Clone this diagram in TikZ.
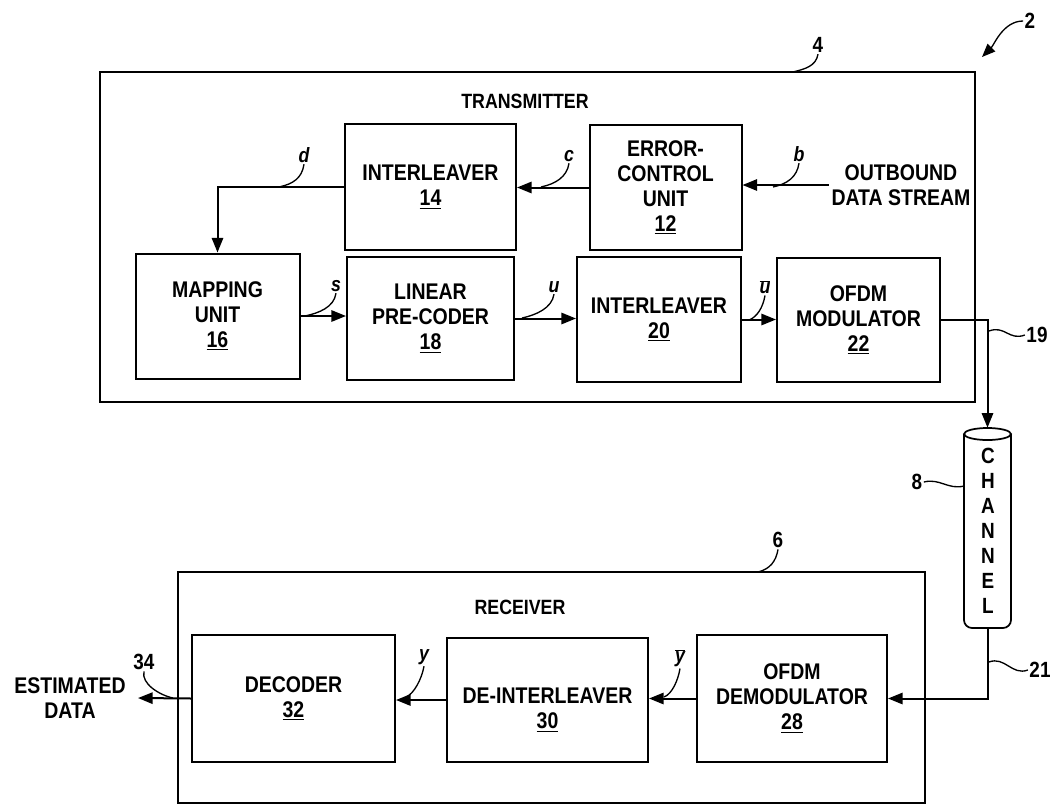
\documentclass[tikz,border=0pt]{standalone}
\usepackage{fontspec}
\setmainfont{Liberation Sans}[FakeStretch=0.86]
\usetikzlibrary{arrows.meta}
\newcommand\olbar[1]{$\overline{\mbox{#1}}$}
\begin{document}
\begin{tikzpicture}[x=0.75pt,y=-0.75pt,
  sz/.style n args={2}{minimum width=#1*0.75pt, minimum height=#2*0.75pt},
  box/.style={draw, line width=1.5pt, inner sep=0pt, align=center, font=\bfseries\fontsize{17}{18.75}\selectfont},
  outer/.style={draw, line width=1.3pt, inner sep=0pt},
  title/.style={font=\bfseries\fontsize{15.5}{18}\selectfont},
  txt/.style={align=center, inner sep=2pt, font=\bfseries\fontsize{17}{18.75}\selectfont},
  lab/.style={font=\bfseries\itshape\fontsize{15.5}{18}\selectfont, inner sep=1pt},
  num/.style={font=\bfseries\fontsize{16.5}{18}\selectfont, inner sep=1pt},
  conn/.style={line width=1.5pt},
  arr/.style={line width=1.5pt, -{Triangle[length=11pt,width=8.5pt]}},
  lead/.style={line width=1pt}]
\useasboundingbox (0,0) rectangle (1050,807);

% transmitter
\node[outer, sz={875}{330}] (tx) at (537.5,237) {};
\node[title] (txt) at (525,101) {TRANSMITTER};
\node[box, sz={171}{126}] (i14) at (430.5,187) {INTERLEAVER\\\underline{14}};
\node[box, sz={152}{125}] (e12) at (665.5,187.5) {ERROR-\\CONTROL\\UNIT\\\underline{12}};
\node[txt] (out) at (901,185) {OUTBOUND\\DATA STREAM};
\node[box, sz={164}{125}] (m16) at (217.5,316) {MAPPING\\UNIT\\\underline{16}};
\node[box, sz={167}{123}] (p18) at (430.5,318.5) {LINEAR\\PRE-CODER\\\underline{18}};
\node[box, sz={164}{125}] (i20) at (659,319.5) {INTERLEAVER\\\underline{20}};
\node[box, sz={163}{124}] (o22) at (858.5,320) {OFDM\\MODULATOR\\\underline{22}};

% channel
\node[inner sep=0pt, sz={47}{200}] (ch) at (987.5,528) {};
\draw[line width=1.3pt] (987.5,434) ellipse (23.5 and 6);
\draw[line width=1.3pt, rounded corners=6pt] (964,434) -- (964,628) -- (1011,628) -- (1011,434);
\node[txt, font=\bfseries\fontsize{16.5}{18.75}\selectfont] (chtxt) at (988,531) {C\\H\\A\\N\\N\\E\\L};

% receiver
\node[outer, sz={747}{231}] (rx) at (551.5,687.5) {};
\node[title] (rxt) at (520,607) {RECEIVER};
\node[box, sz={190}{127}] (d28) at (792,698.5) {OFDM\\DEMODULATOR\\\underline{28}};
\node[box, sz={201}{124}] (d30) at (547.5,700) {};
\node[txt] (d30t) at (547.5,710) {DE-INTERLEAVER\\\underline{30}};
\node[box, sz={203}{127}] (d32) at (293.5,698.5) {DECODER\\\underline{32}};
\node[txt] (est) at (70,698) {ESTIMATED\\DATA};
\coordinate (e34) at (138,698);

% connectors
\draw[arr] (out.west) -- (out.west -| e12.east);
\draw[arr] (e12.west) -- (e12.west -| i14.east);
\draw[arr] (i14.west) -| (m16.north);
\draw[arr] (m16.east) -- (m16.east -| p18.west);
\draw[arr] (p18.east) -- (p18.east -| i20.west);
\draw[arr] (i20.east) -- (i20.east -| o22.west);
\draw[arr] (o22.east) -| (ch.north);
\draw[arr] (ch.south) |- (d28.east);
\draw[arr] (d28.west) -- (d28.west -| d30.east);
\draw[arr] (d30.west) -- (d30.west -| d32.east);
\draw[arr] (d32.west) -- (e34);

% signal labels
\node[lab] (ld) at (304,155) {d};
\coordinate (pd) at (279,187);
\draw[lead] (ld.south) .. controls +(-2,14) and +(14,-3) .. (pd);
\node[lab] (lc) at (569,156) {c};
\coordinate (pc) at (541,187);
\draw[lead] (lc.south) .. controls +(-2,14) and +(14,-3) .. (pc);
\node[lab] (lb) at (799,154) {b};
\coordinate (pb) at (773,187);
\draw[lead] (lb.south) .. controls +(-2,14) and +(14,-3) .. (pb);
\node[lab] (ls) at (336,286) {s};
\coordinate (ps) at (305,316);
\draw[lead] (ls.south) .. controls +(-2,14) and +(14,-3) .. (ps);
\node[lab] (lu) at (554,287) {u};
\coordinate (pu) at (522,318);
\draw[lead] (lu.south) .. controls +(-2,14) and +(14,-3) .. (pu);
\node[lab] (lub) at (765,287) {\olbar{u}};
\coordinate (pub) at (749,320);
\draw[lead] (lub.south) .. controls +(-2,12) and +(8,-3) .. (pub);
\node[lab] (lyb) at (680,658) {\olbar{y}};
\coordinate (pyb) at (664,697);
\draw[lead] (lyb.south) .. controls +(-2,12) and +(8,-3) .. (pyb);
\node[lab] (ly) at (424,657) {y};
\coordinate (py) at (406,697);
\draw[lead] (ly.south) .. controls +(-2,12) and +(8,-3) .. (py);

% reference numerals
\node[num] (n2) at (1030,21) {2};
\coordinate (p2) at (982,57);
\draw[lead, -{Triangle[length=10pt,width=8pt]}] (n2.west) .. controls +(-20,0) and +(12,-12) .. (p2);
\node[num] (n4) at (818,45) {4};
\coordinate (p4) at (793,72);
\draw[lead] (n4.south) .. controls +(-2,12) and +(12,-3) .. (p4);
\node[num] (n6) at (778,540) {6};
\coordinate (p6) at (758,572);
\draw[lead] (n6.south) .. controls +(-2,12) and +(12,-3) .. (p6);
\node[num] (n19) at (1037,335) {19};
\coordinate (p19) at (989,331);
\draw[lead] (n19.west) .. controls +(-16,6) and +(16,-6) .. (p19);
\node[num] (n21) at (1040,670) {21};
\coordinate (p21) at (989,662);
\draw[lead] (n21.west) .. controls +(-16,6) and +(16,-6) .. (p21);
\node[num] (n8) at (917,482) {8};
\coordinate (p8) at (964,486);
\draw[lead] (n8.east) .. controls +(16,-4) and +(-16,4) .. (p8);
\node[num] (n34) at (144,662) {34};
\coordinate (p34) at (173,698);
\draw[lead] (n34.south) .. controls +(-3,12) and +(-14,-3) .. (p34);
\end{tikzpicture}
\end{document}
